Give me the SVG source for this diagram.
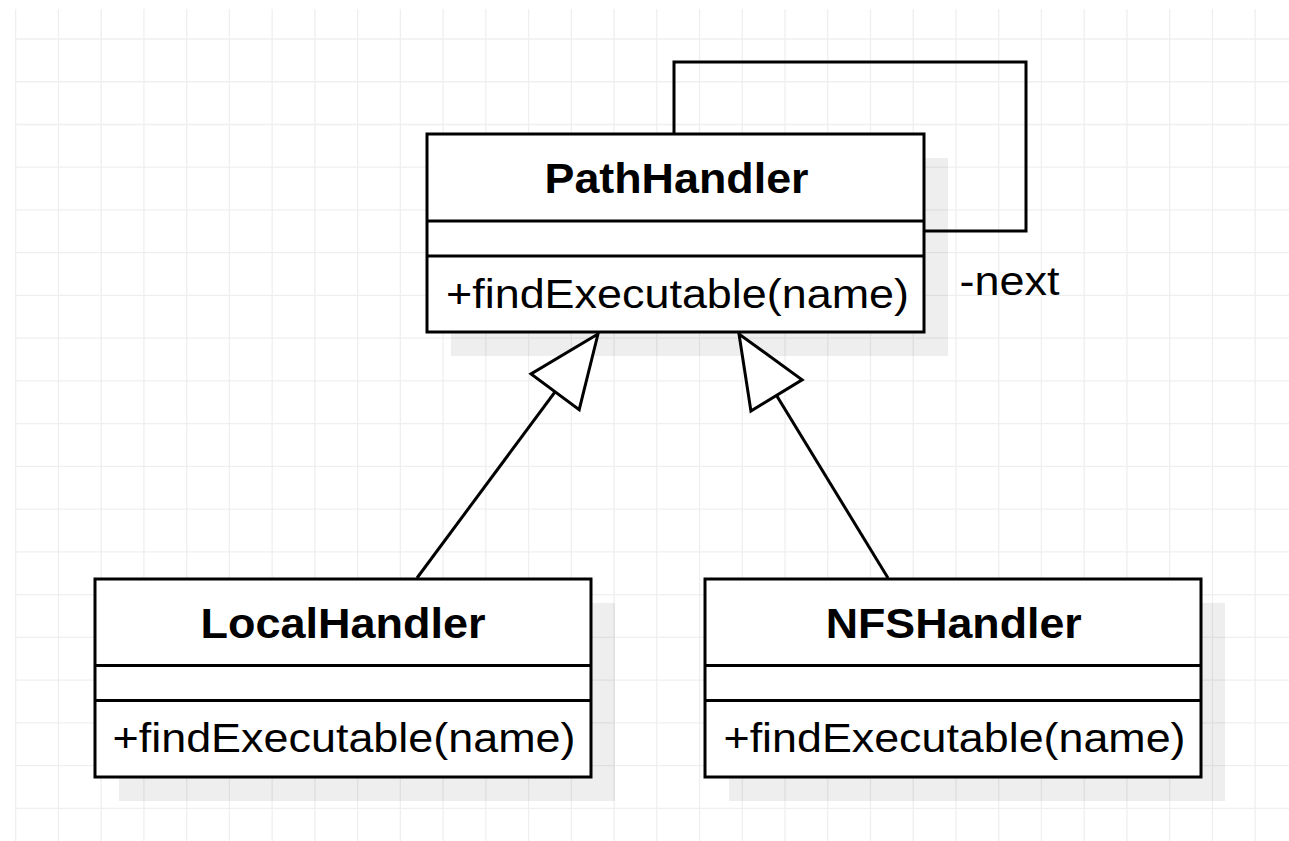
<svg xmlns="http://www.w3.org/2000/svg" width="1289" height="841" viewBox="0 0 1289 841">
  <style>
    .grid { fill: none; stroke: #efefef; stroke-width: 1.3; }
    .shadow { fill: #000; fill-opacity: 0.065; stroke: none; }
    .box { fill: #fff; stroke: #000; stroke-width: 3; }
    .sep { fill: none; stroke: #000; stroke-width: 3; }
    .title { font-family: "Liberation Sans", Arial, Helvetica, sans-serif; font-weight: bold; font-size: 42px; fill: #000; text-anchor: middle; }
    .member { font-family: "Liberation Sans", Arial, Helvetica, sans-serif; font-size: 40px; fill: #000; }
    .edge { fill: none; stroke: #000; stroke-width: 3; stroke-linejoin: miter; }
  </style>
  <defs>
    <!-- hollow triangle for UML generalization -->
    <marker id="generalization" markerUnits="userSpaceOnUse" viewBox="-6 -6 84 72" markerWidth="84" markerHeight="72" refX="72" refY="30" orient="auto" overflow="visible">
      <path d="M72 30 L0 0 L0 60 Z" fill="#fff" stroke="#000" stroke-width="3" stroke-linejoin="miter"/>
    </marker>
  </defs>

  <rect x="0" y="0" width="1289" height="841" fill="#fff"/>

  <!-- background grid -->
  <path class="grid" d="M15.7 9V841M58.44 9V841M101.18 9V841M143.92 9V841M186.66 9V841M229.4 9V841M272.14 9V841M314.88 9V841M357.62 9V841M400.36 9V841M443.1 9V841M485.84 9V841M528.58 9V841M571.32 9V841M614.06 9V841M656.8 9V841M699.54 9V841M742.28 9V841M785.02 9V841M827.76 9V841M870.5 9V841M913.24 9V841M955.98 9V841M998.72 9V841M1041.46 9V841M1084.2 9V841M1126.94 9V841M1169.68 9V841M1212.42 9V841M1255.16 9V841
    M15.7 39H1289M15.7 81.74H1289M15.7 124.48H1289M15.7 167.22H1289M15.7 209.96H1289M15.7 252.7H1289M15.7 295.44H1289M15.7 338.18H1289M15.7 380.92H1289M15.7 423.66H1289M15.7 466.4H1289M15.7 509.14H1289M15.7 551.88H1289M15.7 594.62H1289M15.7 637.36H1289M15.7 680.1H1289M15.7 722.84H1289M15.7 765.58H1289M15.7 808.32H1289"/>

  <!-- class PathHandler -->
  <g id="PathHandler">
    <rect class="shadow" x="451" y="158" width="497" height="198"/>
    <rect class="box" x="427" y="134" width="497" height="198"/>
    <path class="sep" d="M427 221H924M427 256H924"/>
    <text class="title" x="676.5" y="193.3" textLength="264" lengthAdjust="spacingAndGlyphs">PathHandler</text>
    <text class="member" x="446" y="307.5" textLength="463" lengthAdjust="spacingAndGlyphs">+findExecutable(name)</text>
  </g>

  <!-- class LocalHandler -->
  <g id="LocalHandler">
    <rect class="shadow" x="119" y="603" width="496" height="198"/>
    <rect class="box" x="95" y="579" width="496" height="198"/>
    <path class="sep" d="M95 665.5H591M95 700.5H591"/>
    <text class="title" x="343" y="638.3" textLength="285" lengthAdjust="spacingAndGlyphs">LocalHandler</text>
    <text class="member" x="112.5" y="752.3" textLength="463" lengthAdjust="spacingAndGlyphs">+findExecutable(name)</text>
  </g>

  <!-- class NFSHandler -->
  <g id="NFSHandler">
    <rect class="shadow" x="729" y="603" width="496" height="198"/>
    <rect class="box" x="705" y="579" width="496" height="198"/>
    <path class="sep" d="M705 665.5H1201M705 700.5H1201"/>
    <text class="title" x="953.7" y="638" textLength="256" lengthAdjust="spacingAndGlyphs">NFSHandler</text>
    <text class="member" x="723.5" y="752" textLength="462" lengthAdjust="spacingAndGlyphs">+findExecutable(name)</text>
  </g>

  <!-- relations -->
  <g id="connectors">
    <!-- self association "next" -->
    <path class="edge" d="M674 134V62H1026V231H924"/>
    <text class="member" x="959.5" y="295" textLength="100" lengthAdjust="spacingAndGlyphs">-next</text>
    <!-- generalizations -->
    <path class="edge" d="M417 578L598 334" marker-end="url(#generalization)"/>
    <path class="edge" d="M888 578L739 334" marker-end="url(#generalization)"/>
  </g>
</svg>
